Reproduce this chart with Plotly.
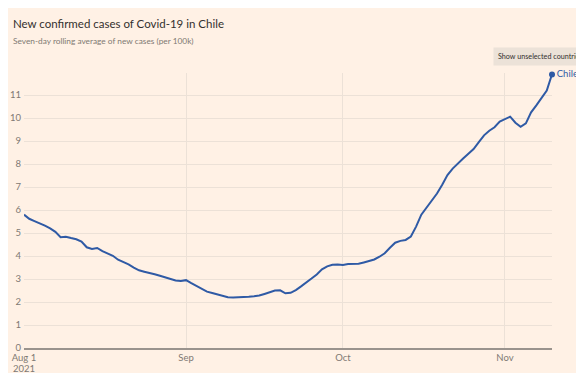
import plotly.graph_objects as go
import pandas as pd

start_date = "2021-08-01"
values = [5.80, 5.62, 5.52, 5.43, 5.32, 5.20, 5.05, 4.82, 4.84, 4.78,
          4.73, 4.63, 4.38, 4.31, 4.35, 4.21, 4.10, 4.01, 3.84, 3.74,
          3.64, 3.50, 3.38, 3.32, 3.28, 3.21, 3.14, 3.07, 3.00, 2.94,
          2.91, 2.95, 2.82, 2.70, 2.58, 2.45, 2.39, 2.32, 2.26, 2.21,
          2.20, 2.20, 2.21, 2.23, 2.25, 2.28, 2.35, 2.41, 2.50, 2.51,
          2.38, 2.40, 2.52, 2.68, 2.87, 3.02, 3.20, 3.42, 3.55, 3.62,
          3.63, 3.61, 3.65, 3.64, 3.66, 3.72, 3.78, 3.85, 3.97, 4.12,
          4.36, 4.58, 4.66, 4.70, 4.85, 5.28, 5.80, 6.12, 6.40, 6.72,
          7.10, 7.52, 7.80, 8.00, 8.24, 8.45, 8.65, 8.95, 9.25, 9.45,
          9.60, 9.85, 9.95, 10.06, 9.80, 9.62, 9.77, 10.25, 10.55, 10.90,
          11.20, 11.90]
dates = pd.date_range(start_date, periods=len(values), freq="D")

tick_vals = ["2021-08-01", "2021-09-01", "2021-10-01", "2021-11-01"]
tick_text = ["Aug 1", "Sep", "Oct", "Nov"]
year_label = "2021"
y_ticks = list(range(0, 12))
country = "Chile"

line_color = "#2f5aa5"
bg = "#fff1e5"
grid = "#ece1d7"
text_dark = "#33302e"
text_grey = "#807973"
font_family = "Lato, 'Open Sans', sans-serif"

# page body has an 8px default margin; figure is sized to fit the window
W, H = 576, 365
ML, MR, MT, MB = 16, 32, 65, 25
PW, PH = W - ML - MR, H - MT - MB


def px(x):
    return (x - ML) / PW


def py(y):
    return (H - MB - y) / PH


fig = go.Figure()
fig.add_trace(go.Scatter(x=dates, y=values, mode="lines",
                         line=dict(color=line_color, width=2),
                         hoverinfo="skip", cliponaxis=False))
fig.add_trace(go.Scatter(x=[dates[-1]], y=[values[-1]], mode="markers+text",
                         marker=dict(color=line_color, size=6),
                         text=[country], textposition="middle right",
                         textfont=dict(color=line_color, size=9.5, family=font_family),
                         cliponaxis=False, hoverinfo="skip"))

fig.update_layout(
    width=W, height=H,
    paper_bgcolor=bg, plot_bgcolor=bg,
    margin=dict(l=ML, r=MR, t=MT, b=MB, autoexpand=False),
    showlegend=False,
    font=dict(family=font_family, color=text_grey, size=9.5),
)
fig.update_xaxes(
    range=[dates[0], dates[-1]],
    tickvals=tick_vals, ticktext=tick_text,
    showgrid=True, gridcolor=grid, gridwidth=1,
    showline=True, linecolor="#9a938d", linewidth=1.5,
    ticks="", tickfont=dict(size=9.5, color=text_grey),
    zeroline=False, fixedrange=True, automargin=False,
)
fig.update_yaxes(
    range=[0, 11.96],
    tickvals=y_ticks,
    showgrid=True, gridcolor=grid, gridwidth=1,
    zeroline=False, showline=False,
    ticks="", ticklabelstandoff=2,
    tickfont=dict(size=9.5, color=text_grey), fixedrange=True, automargin=False,
)

fig.add_annotation(text=year_label, xref="x", yref="paper",
                   x=tick_vals[0], y=py(360.5), xanchor="center", yanchor="middle",
                   showarrow=False, font=dict(size=9.5, color=text_grey, family=font_family))
fig.add_annotation(text="New confirmed cases of Covid-19 in Chile",
                   xref="paper", yref="paper", x=px(3), y=py(16),
                   xanchor="left", yanchor="middle", showarrow=False,
                   font=dict(size=11.5, color=text_dark, family=font_family))
fig.add_annotation(text="Seven-day rolling average of new cases (per 100k)",
                   xref="paper", yref="paper", x=px(3), y=py(33),
                   xanchor="left", yanchor="middle", showarrow=False,
                   font=dict(size=8.3, color=text_grey, family=font_family))
fig.add_annotation(text="Show unselected countries",
                   xref="paper", yref="paper", x=px(485), y=py(48),
                   xanchor="left", yanchor="middle", showarrow=False,
                   bgcolor="#ece2d8", borderpad=4,
                   font=dict(size=7.2, color=text_dark, family=font_family))

fig.write_html("out.html")
